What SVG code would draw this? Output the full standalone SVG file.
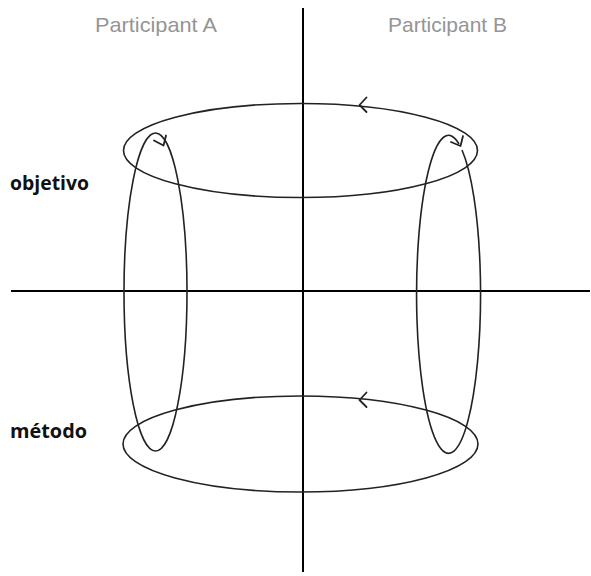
<svg xmlns="http://www.w3.org/2000/svg" width="591" height="576" viewBox="0 0 591 576">
  <style>
    .axis { stroke: #000; stroke-width: 2; fill: none; }
    .loop { stroke: #222; stroke-width: 1.6; fill: none; }
    .head { stroke: #222; stroke-width: 1.8; fill: none; stroke-linecap: round; stroke-linejoin: round; }
    .part { font-family: "Liberation Sans", Arial, sans-serif; font-size: 21px; fill: #959595; }
    .row { font-family: "Open Sans", "Liberation Sans", Arial, sans-serif; font-size: 20px; font-weight: bold; fill: #111; }
  </style>
  <rect width="591" height="576" fill="#fff"/>
  <g id="axes">
    <line class="axis" x1="303" y1="8" x2="303" y2="572"/>
    <line class="axis" x1="11" y1="291" x2="590" y2="291"/>
  </g>
  <g id="labels">
    <text class="part" x="95" y="32" textLength="122" lengthAdjust="spacingAndGlyphs">Participant A</text>
    <text class="part" x="388" y="32" textLength="119" lengthAdjust="spacingAndGlyphs">Participant B</text>
    <text class="row" x="10" y="190" textLength="79" lengthAdjust="spacingAndGlyphs">objetivo</text>
    <text class="row" x="10" y="438" textLength="77" lengthAdjust="spacingAndGlyphs">método</text>
  </g>
  <g id="top-cycle">
    <ellipse class="loop" cx="300.5" cy="150.5" rx="177" ry="47"/>
    <path class="head" d="M366.5,97.5 L359.5,105 L366.5,112"/>
  </g>
  <g id="bottom-cycle">
    <ellipse class="loop" cx="300.5" cy="444" rx="177.5" ry="48"/>
    <path class="head" d="M366.5,392.5 L359.5,400 L366.5,407"/>
  </g>
  <g id="left-cycle">
    <ellipse class="loop" cx="155.5" cy="292" rx="31.5" ry="159"/>
    <path class="head" d="M154,140.5 L163.5,145.5 L166,135.5"/>
  </g>
  <g id="right-cycle">
    <path class="loop" d="M462,150 A32,159 0 1 1 459,144"/>
    <path class="head" d="M451,142 L460.5,146 L463,136"/>
  </g>
</svg>
